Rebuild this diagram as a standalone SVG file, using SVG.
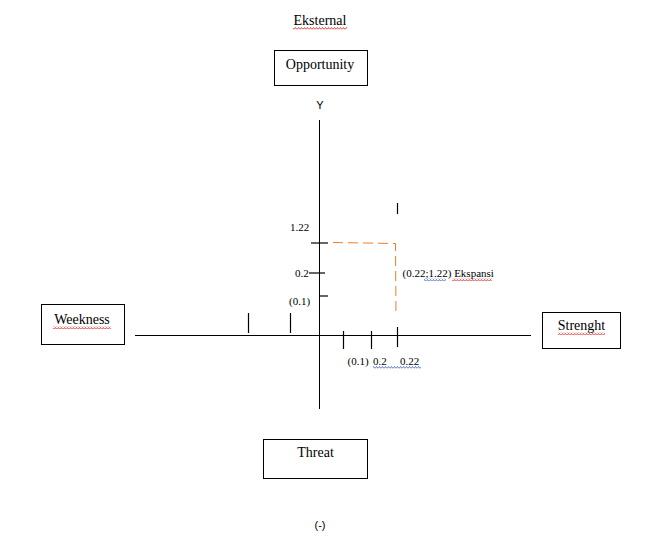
<svg xmlns="http://www.w3.org/2000/svg" width="661" height="541" viewBox="0 0 661 541">
<style>
.box{fill:#fff;stroke:#000;stroke-width:1}
.lbl{font-family:"Liberation Serif","Times New Roman",serif;font-size:14px;fill:#000}
.sm{font-family:"Liberation Serif","Times New Roman",serif;font-size:11px;fill:#000}
.sans{font-family:"Liberation Sans",Arial,sans-serif;font-size:11px;fill:#000}
.ax{stroke:#000;stroke-width:1;fill:none}
.tk{stroke:#000;stroke-width:1.2;fill:none}
.dash{stroke:#ED7D31;stroke-width:1;fill:none;stroke-dasharray:10,5}
</style>
<defs>
<pattern id="wavyR" x="0" y="0" width="3" height="3" patternUnits="userSpaceOnUse"><path d="M0,2.5 L1.5,0.5 L3,2.5" stroke="#E00000" stroke-width="0.7" fill="none"/></pattern>
<pattern id="wavyB" x="0" y="0" width="3" height="3" patternUnits="userSpaceOnUse"><path d="M0,2.5 L1.5,0.5 L3,2.5" stroke="#2040D0" stroke-width="0.7" fill="none"/></pattern>
</defs>
<rect width="661" height="541" fill="#fff"/>
<g id="title">
<text class="lbl" x="320" y="25" text-anchor="middle">Eksternal</text>
<rect x="293" y="27" width="54" height="3" fill="url(#wavyR)"/>
</g>
<g id="opportunity">
<rect class="box" x="274.5" y="50.5" width="93" height="35"/>
<text class="lbl" x="320" y="69" text-anchor="middle">Opportunity</text>
</g>
<g id="weekness">
<rect class="box" x="41.5" y="304.5" width="83" height="40"/>
<text class="lbl" x="82" y="324" text-anchor="middle">Weekness</text>
<rect x="53" y="326" width="58" height="3" fill="url(#wavyR)"/>
</g>
<g id="strenght">
<rect class="box" x="542.5" y="312.5" width="78" height="36"/>
<text class="lbl" x="581.5" y="330" text-anchor="middle">Strenght</text>
<rect x="558" y="332" width="47" height="3" fill="url(#wavyR)"/>
</g>
<g id="threat">
<rect class="box" x="263.5" y="439.5" width="104" height="39"/>
<text class="lbl" x="315.5" y="457" text-anchor="middle">Threat</text>
</g>
<g id="bottom-label">
<text class="sans" x="320" y="529" text-anchor="middle">(-)</text>
</g>
<g id="connectors">
<line class="ax" x1="319.5" y1="120" x2="319.5" y2="409"/>
<line class="ax" x1="135" y1="335.5" x2="531" y2="335.5"/>
<line class="tk" x1="311" y1="243" x2="328" y2="243"/>
<line class="tk" x1="309" y1="273" x2="325" y2="273"/>
<line class="tk" x1="320" y1="296" x2="328" y2="296"/>
<line class="tk" x1="248.5" y1="313" x2="248.5" y2="333"/>
<line class="tk" x1="290.5" y1="313" x2="290.5" y2="333"/>
<line class="tk" x1="343.5" y1="331" x2="343.5" y2="349"/>
<line class="tk" x1="371.5" y1="331" x2="371.5" y2="349"/>
<line class="tk" x1="397.5" y1="327" x2="397.5" y2="347"/>
<line class="tk" x1="397.5" y1="203" x2="397.5" y2="214"/>
<path class="dash" d="M333,242.5 L395.5,243.5 L396,316"/>
</g>
<g id="labels">
<text class="sans" x="320" y="109" text-anchor="middle">Y</text>
<text class="sm" x="290" y="231">1.22</text>
<text class="sm" x="295" y="277">0.2</text>
<text class="sm" x="289" y="305">(0.1)</text>
<text class="sm" x="347.5" y="365">(0.1)</text>
<text class="sm" x="373" y="365">0.2</text>
<text class="sm" x="400" y="365">0.22</text>
<rect x="373" y="366" width="48" height="3" fill="url(#wavyB)"/>
<text class="sm" x="402.5" y="277">(0.22;1.22) Ekspansi</text>
<rect x="424" y="278" width="22" height="3" fill="url(#wavyB)"/>
<rect x="452" y="278" width="40" height="3" fill="url(#wavyR)"/>
</g>
</svg>
